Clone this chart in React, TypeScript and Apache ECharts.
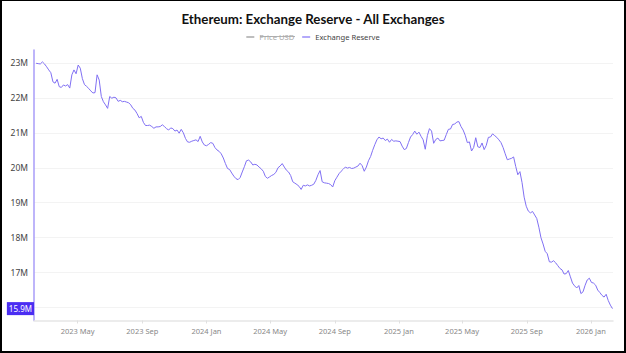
import React, { useEffect, useRef } from 'react';
import * as echarts from 'echarts';

const titleText = 'Ethereum: Exchange Reserve - All Exchanges';
const priceName = 'Price USD';
const reserveName = 'Exchange Reserve';

// sampling of the reserve series: one reading every 4 days from startDate
const startDate = '2023-02-11';
const stepDays = 4;
const axisStart = '2023-02-07';
const axisEnd = '2026-02-12';

const monthTicks = [
  '2023-05-01', '2023-09-01', '2024-01-01', '2024-05-01', '2024-09-01',
  '2025-01-01', '2025-05-01', '2025-09-01', '2026-01-01',
];
const monthNames = ['Jan', 'Feb', 'Mar', 'Apr', 'May', 'Jun', 'Jul', 'Aug', 'Sep', 'Oct', 'Nov', 'Dec'];

// Exchange reserve, millions of ETH
const reserve = [
  22.99, 22.98, 22.97, 23.03, 22.97, 22.89, 22.80, 22.72, 22.46, 22.42,
  22.53, 22.32, 22.30, 22.37, 22.34, 22.38, 22.28, 22.66, 22.80, 22.69,
  22.94, 22.85, 22.55, 22.38, 22.33, 22.27, 22.20, 22.14, 22.15, 22.66,
  22.51, 22.04, 21.89, 21.80, 21.70, 22.04, 21.99, 22.02, 22.00, 21.90,
  21.93, 21.89, 21.90, 21.88, 21.86, 21.80, 21.70, 21.65, 21.55, 21.43,
  21.47, 21.30, 21.21, 21.21, 21.22, 21.18, 21.13, 21.17, 21.17, 21.18,
  21.23, 21.18, 21.12, 21.08, 21.14, 21.12, 21.05, 21.08, 20.99, 21.10,
  21.00, 20.84, 20.74, 20.73, 20.76, 20.78, 20.80, 20.75, 20.90, 20.74,
  20.65, 20.63, 20.67, 20.72, 20.70, 20.58, 20.51, 20.47, 20.40, 20.28,
  20.12, 19.98, 19.95, 19.85, 19.76, 19.69, 19.66, 19.72, 19.88, 20.03,
  20.20, 20.22, 20.17, 20.08, 20.10, 20.08, 20.02, 19.97, 19.90, 19.75,
  19.70, 19.74, 19.78, 19.81, 19.87, 20.00, 20.05, 20.12, 20.02, 19.93,
  19.88, 19.78, 19.60, 19.56, 19.52, 19.47, 19.38, 19.50, 19.48, 19.51,
  19.48, 19.50, 19.53, 19.64, 19.80, 19.92, 19.60, 19.57, 19.56, 19.55,
  19.52, 19.45, 19.63, 19.73, 19.83, 19.90, 19.96, 20.02, 19.99, 20.01,
  19.98, 19.99, 20.02, 20.05, 20.13, 20.06, 19.90, 20.02, 20.20, 20.32,
  20.50, 20.66, 20.80, 20.88, 20.83, 20.85, 20.78, 20.82, 20.73, 20.81,
  20.76, 20.77, 20.76, 20.75, 20.62, 20.52, 20.55, 20.72, 20.88, 20.95,
  21.05, 20.96, 21.02, 20.90, 20.80, 20.53, 20.92, 21.12, 21.05, 20.70,
  20.81, 20.85, 20.77, 20.78, 20.79, 20.95, 21.10, 21.11, 21.24, 21.25,
  21.31, 21.32, 21.18, 21.08, 20.93, 20.72, 20.74, 20.48, 20.58, 20.86,
  20.60, 20.58, 20.71, 20.52, 20.64, 20.87, 20.88, 20.97, 20.92, 20.87,
  20.80, 20.72, 20.58, 20.40, 20.23, 20.25, 20.27, 20.31, 20.04, 19.80,
  19.89, 19.58, 19.16, 18.90, 18.76, 18.71, 18.75, 18.65, 18.55, 18.30,
  18.00, 17.82, 17.61, 17.54, 17.31, 17.30, 17.34, 17.28, 17.20, 17.12,
  17.08, 16.96, 16.97, 17.06, 16.88, 16.70, 16.62, 16.56, 16.63, 16.40,
  16.45, 16.64, 16.79, 16.84, 16.72, 16.70, 16.64, 16.50, 16.43, 16.35,
  16.30, 16.38, 16.20, 16.07, 15.97,
];

const yMin = 15.63;
const yMax = 23.37;

const DAY = 86400000;
const FONT = '"Noto Sans", "Open Sans", sans-serif';
const TITLE_FONT = 'Lato, "Noto Sans", sans-serif';

export default function App() {
  const ref = useRef<HTMLDivElement>(null);

  useEffect(() => {
    document.body.style.margin = '0';
    const chart = echarts.init(ref.current!, null, { renderer: 'svg' });
    const t0 = Date.parse(startDate);
    const seriesData = reserve.map((v, i) => [t0 + i * stepDays * DAY, v]);
    const last = reserve[reserve.length - 1];
    const lastLabel = (Math.floor(last * 10) / 10).toFixed(1) + 'M';
    const tickValues = monthTicks.map((d) => Date.parse(d));

    chart.setOption({
      animation: false,
      textStyle: { fontFamily: FONT },
      title: {
        text: titleText,
        left: 'center',
        top: 7,
        textStyle: { fontFamily: TITLE_FONT, fontSize: 13.3, fontWeight: 'bold', color: '#111' },
      },
      legend: {
        top: 28,
        left: 'center',
        icon: 'rect',
        itemWidth: 8,
        itemHeight: 1.5,
        itemGap: 8,
        textStyle: { fontFamily: FONT, fontSize: 7.6, color: '#444' },
        inactiveColor: '#a8a8a8',
        selected: { [priceName]: false, [reserveName]: true },
        data: [priceName, reserveName],
      },
      grid: { left: 34, right: 13, top: 50, bottom: 32.5, containLabel: false },
      xAxis: {
        type: 'value',
        min: Date.parse(axisStart),
        max: Date.parse(axisEnd),
        axisLine: { show: true, lineStyle: { color: '#e6e6e6', width: 1.5 } },
        axisTick: {
          show: true,
          length: 3,
          lineStyle: { color: '#e0e0e0' },
          customValues: tickValues,
        },
        splitLine: { show: false },
        axisLabel: {
          color: '#888',
          fontSize: 7.5,
          margin: 6,
          customValues: tickValues,
          formatter: (v: number) => {
            const d = new Date(v);
            return d.getUTCFullYear() + ' ' + monthNames[d.getUTCMonth()];
          },
        },
      },
      yAxis: {
        type: 'value',
        min: yMin,
        max: yMax,
        splitNumber: 8,
        axisLine: { show: true, lineStyle: { color: '#a99cf8', width: 1.5 } },
        axisTick: { show: false },
        axisLabel: {
          color: '#444',
          fontSize: 8.5,
          margin: 6,
          showMinLabel: false,
          showMaxLabel: false,
          formatter: (v: number) => {
            const r = Math.round(v);
            if (Math.abs(v - r) > 1e-6) return '';
            if (Math.abs(v - last) < 0.5) return '';
            return r + 'M';
          },
        },
        splitLine: {
          show: true,
          showMinLine: false,
          showMaxLine: false,
          lineStyle: { color: '#f3f3f3', width: 1 },
        },
      },
      graphic: [
        {
          type: 'line',
          shape: { x1: 260, y1: 36.5, x2: 295, y2: 36.5 },
          style: { stroke: '#a0a0a0', lineWidth: 0.8 },
          silent: true,
        },
      ],
      series: [
        {
          name: priceName,
          type: 'line',
          data: [],
          color: '#aaaaaa',
          showSymbol: false,
        },
        {
          name: reserveName,
          type: 'line',
          data: seriesData,
          color: '#9a8cf8',
          showSymbol: false,
          symbol: 'none',
          lineStyle: { color: '#8070f3', width: 1 },
          markLine: {
            silent: true,
            symbol: ['none', 'none'],
            lineStyle: { color: 'rgba(0,0,0,0)', width: 0, type: 'solid' },
            label: {
              show: true,
              position: 'start',
              distance: 0,
              formatter: () => lastLabel,
              backgroundColor: '#4a2df2',
              color: '#fff',
              fontSize: 8,
              padding: [3, 2, 2, 2],
              fontFamily: FONT,
            },
            data: [{ yAxis: last }],
          },
        },
      ],
    });
    return () => chart.dispose();
  }, []);

  return (
    <div style={{ position: 'fixed', left: 0, top: 0, width: 626, height: 353, background: '#fff', overflow: 'hidden' }}>
      <div ref={ref} style={{ position: 'absolute', left: 0, top: 0, width: 626, height: 353 }} />
      <div
        style={{
          position: 'absolute',
          left: 0,
          top: 0,
          right: 0,
          bottom: 0,
          borderStyle: 'solid',
          borderColor: '#000',
          borderWidth: '1px 2px 2px 2px',
          pointerEvents: 'none',
        }}
      />
    </div>
  );
}
